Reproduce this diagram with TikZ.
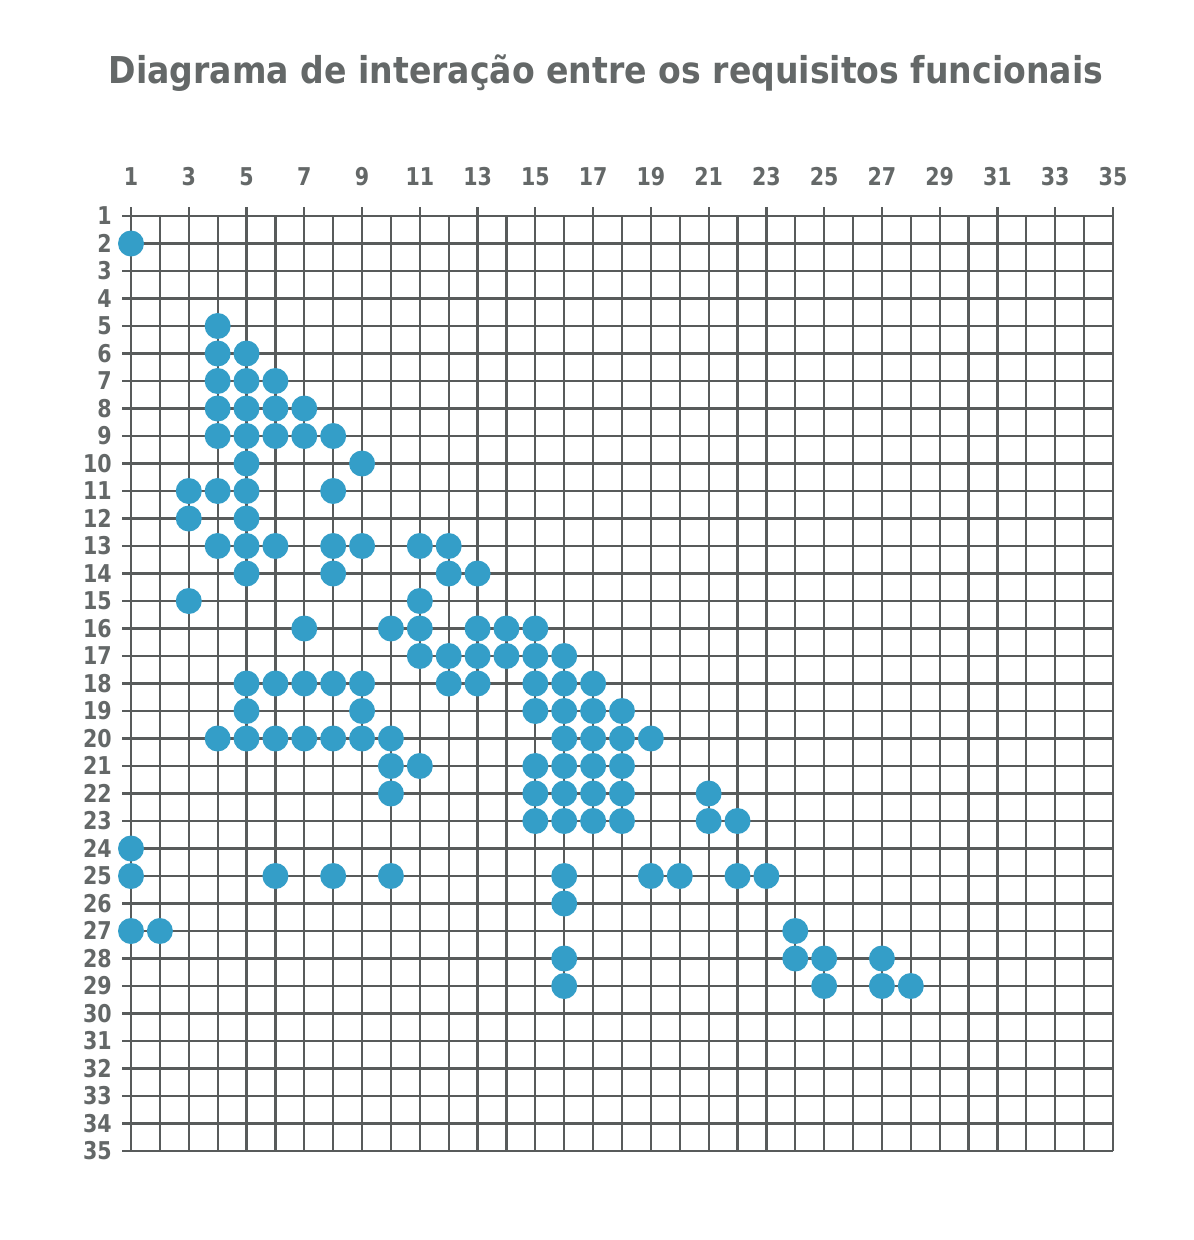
\documentclass[tikz,border=0pt]{standalone}
\usepackage{fontspec}
\setmainfont{DejaVu Sans}
\definecolor{gridgray}{RGB}{88,91,91}
\definecolor{dotblue}{RGB}{52,158,200}
\definecolor{txtgray}{RGB}{100,104,104}
\tikzset{
  gridline/.style={draw=gridgray, line width=2.2pt},
  lab/.style={text=txtgray, font=\fontsize{24.5}{24.5}\selectfont\bfseries, inner sep=0pt},
  dot/.style={circle, fill=dotblue, minimum size=26pt, inner sep=0pt, draw=none},
  ttl/.style={text=txtgray, font=\fontsize{37}{37}\selectfont\bfseries, inner sep=0pt}
}
\begin{document}
\begin{tikzpicture}[x=1pt,y=-1pt]
\useasboundingbox (0,0) rectangle (1194,1240);
\fill[white] (0,0) rectangle (1194,1240);
\def\dx{28.882}
\def\dy{27.5}
% title
\node[ttl, anchor=base] (title) at (606,83) {\scalebox{0.895}[1]{Diagrama de interação entre os requisitos funcionais}};
% horizontal grid lines
\foreach \r in {1,...,35} {
  \pgfmathsetmacro\yy{216+(\r-1)*\dy}
  \draw[gridline] (122,\yy) -- (1113,\yy);
}
% vertical grid lines (odd ones with a tick above)
\foreach \c in {1,...,35} {
  \pgfmathsetmacro\xx{131+(\c-1)*\dx}
  \pgfmathsetmacro\yt{isodd(\c)?207:216}
  \draw[gridline] (\xx,\yt) -- (\xx,1151);
}
% column labels
\foreach \c in {1,3,...,35} {
  \pgfmathsetmacro\xx{131+(\c-1)*\dx}
  \node[lab, anchor=base] (t\c) at (\xx,185) {\scalebox{0.84}[1]{\c}};
}
% row labels
\foreach \r in {1,...,35} {
  \pgfmathsetmacro\yy{216+(\r-1)*\dy+8.8}
  \node[lab, anchor=base east] (l\r) at (112,\yy) {\scalebox{0.84}[1]{\r}};
}
% dots
\foreach \r/\cs in {
  2/{1}, 5/{4}, 6/{4,5}, 7/{4,5,6}, 8/{4,5,6,7}, 9/{4,5,6,7,8},
  10/{5,9}, 11/{3,4,5,8}, 12/{3,5}, 13/{4,5,6,8,9,11,12}, 14/{5,8,12,13},
  15/{3,11}, 16/{7,10,11,13,14,15}, 17/{11,12,13,14,15,16},
  18/{5,6,7,8,9,12,13,15,16,17}, 19/{5,9,15,16,17,18},
  20/{4,5,6,7,8,9,10,16,17,18,19}, 21/{10,11,15,16,17,18},
  22/{10,15,16,17,18,21}, 23/{15,16,17,18,21,22}, 24/{1},
  25/{1,6,8,10,16,19,20,22,23}, 26/{16}, 27/{1,2,24},
  28/{16,24,25,27}, 29/{16,25,27,28}} {
  \foreach \c in \cs {
    \pgfmathsetmacro\xx{131+(\c-1)*\dx}
    \pgfmathsetmacro\yy{216+(\r-1)*\dy}
    \node[dot] (d\r-\c) at (\xx,\yy) {};
  }
}
\end{tikzpicture}
\end{document}
